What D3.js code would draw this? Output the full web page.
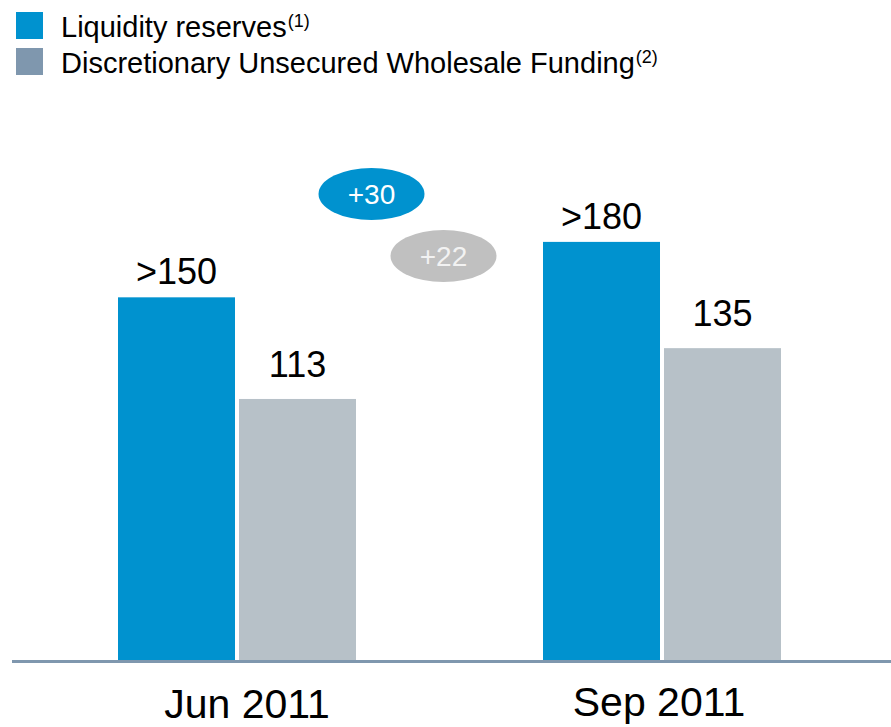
<!DOCTYPE html>
<html>
<head>
<meta charset="utf-8">
<script src="https://cdn.jsdelivr.net/npm/d3@7"></script>
<style>
  html, body { margin: 0; padding: 0; background: #fff; }
  svg { display: block; font-family: "Liberation Sans", Arial, sans-serif; }
</style>
</head>
<body>
<div id="chart"></div>
<script>
// data
var categories = ["Jun 2011", "Sep 2011"];
var seriesNames = ["Liquidity reserves", "Discretionary Unsecured Wholesale Funding"];
var seriesNotes = ["(1)", "(2)"];
var liquidity = [157, 181];          // drawn heights, labelled as ">150", ">180"
var wholesale = [113, 135];
var liquidityLabels = [">150", ">180"];
var wholesaleLabels = ["113", "135"];
var changes = ["+30", "+22"];

var W = 891, H = 727;
var blue = "#0092cf", grey = "#b7c1c8", legendGrey = "#7f97ae";

var svg = d3.select("#chart").append("svg")
  .attr("width", W)
  .attr("height", H);

//--------------------------------------------------------------------------
// legend
var legend = svg.append("g").attr("class", "legend");
var legendColors = [blue, legendGrey];
seriesNames.forEach(function(name, i) {
  var g = legend.append("g").attr("transform", "translate(16," + (12 + i * 36) + ")");
  g.append("rect")
    .attr("width", 27).attr("height", 27)
    .attr("fill", legendColors[i]);
  var t = g.append("text")
    .attr("x", 45).attr("y", 25)
    .attr("font-size", 29)
    .attr("fill", "#000")
    .text(name);
  t.append("tspan")
    .attr("dx", 1)
    .attr("dy", -10)
    .attr("font-size", 18)
    .text(seriesNotes[i]);
});

//--------------------------------------------------------------------------
// scales
var x0 = d3.scaleBand()
  .domain(categories)
  .range([118, 781])
  .paddingInner(0.44)
  .paddingOuter(0);

var x1 = d3.scaleBand()
  .domain(seriesNames)
  .range([0, x0.bandwidth()])
  .paddingInner(0.033);

var y = d3.scaleLinear()
  .domain([0, 200])
  .range([660, 198]);

var rows = categories.map(function(c, i) {
  return [
    {cat: c, key: seriesNames[0], value: liquidity[i], label: liquidityLabels[i], color: blue, off: 13},
    {cat: c, key: seriesNames[1], value: wholesale[i], label: wholesaleLabels[i], color: grey, off: 22}
  ];
});

var groups = svg.append("g").selectAll(".group")
  .data(rows)
  .enter().append("g")
    .attr("class", "group")
    .attr("transform", function(d, i) { return "translate(" + x0(categories[i]) + ",0)"; });

groups.selectAll("rect")
  .data(function(d) { return d; })
  .enter().append("rect")
    .attr("x", function(d) { return x1(d.key); })
    .attr("y", function(d) { return y(d.value); })
    .attr("width", x1.bandwidth())
    .attr("height", function(d) { return y(0) - y(d.value); })
    .attr("fill", function(d) { return d.color; });

groups.selectAll(".val")
  .data(function(d) { return d; })
  .enter().append("text")
    .attr("class", "val")
    .attr("x", function(d) { return x1(d.key) + x1.bandwidth() / 2; })
    .attr("y", function(d) { return y(d.value) - d.off; })
    .attr("text-anchor", "middle")
    .attr("font-size", 36)
    .attr("fill", "#000")
    .text(function(d) { return d.label; });

// baseline
svg.append("line")
  .attr("x1", 12).attr("x2", W)
  .attr("y1", y(0) + 1.5).attr("y2", y(0) + 1.5)
  .attr("stroke", legendGrey)
  .attr("stroke-width", 3);

// category labels (the Jun one sits a little right of its bars on the slide)
var catNudge = [10, -3];
svg.append("g").selectAll(".cat")
  .data(categories)
  .enter().append("text")
    .attr("class", "cat")
    .attr("x", function(d, i) { return x0(d) + x0.bandwidth() / 2 + catNudge[i]; })
    .attr("y", function(d, i) { return i === 0 ? 718 : 716; })
    .attr("text-anchor", "middle")
    .attr("font-size", 41)
    .attr("fill", "#000")
    .text(function(d) { return d; });

//--------------------------------------------------------------------------
// change bubbles between the two dates
var gapMid = (x0(categories[0]) + x0.bandwidth() + x0(categories[1])) / 2;
var bubbles = [
  {text: changes[0], cx: gapMid - 78, cy: 194, fill: blue, ink: "#fff"},
  {text: changes[1], cx: gapMid - 6, cy: 256, fill: "#c0c0c0", ink: "#f2f2f2"}
];
var b = svg.append("g").selectAll(".bubble")
  .data(bubbles)
  .enter().append("g")
    .attr("class", "bubble")
    .attr("transform", function(d) { return "translate(" + d.cx + "," + d.cy + ")"; });
b.append("ellipse")
  .attr("rx", 53).attr("ry", 26)
  .attr("fill", function(d) { return d.fill; });
b.append("text")
  .attr("text-anchor", "middle")
  .attr("dy", "0.36em")
  .attr("font-size", 28)
  .attr("fill", function(d) { return d.ink; })
  .text(function(d) { return d.text; });
</script>
</body>
</html>
